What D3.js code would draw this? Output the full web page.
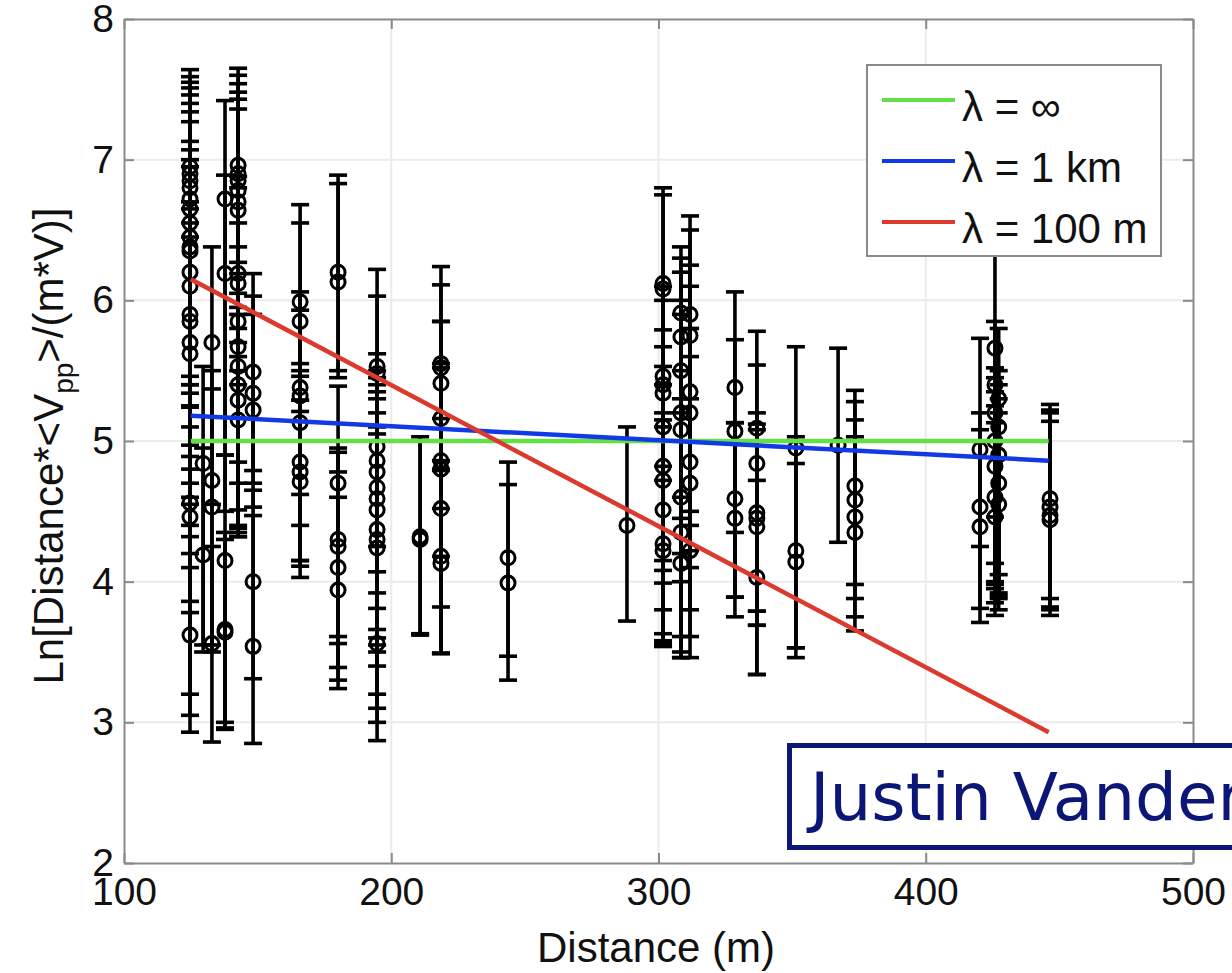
<!DOCTYPE html>
<html>
<head>
<meta charset="utf-8">
<script src="https://cdnjs.cloudflare.com/ajax/libs/d3/7.8.5/d3.min.js"></script>
<style>
  body { margin: 0; background: #fff; }
  text { font-family: "Liberation Sans", Arial, sans-serif; }
</style>
</head>
<body>
<div id="chart"></div>
<script>
// axis ticks
const xTicks = [100, 200, 300, 400, 500];
const yTicks = [2, 3, 4, 5, 6, 7, 8];

// measurements per distance: [value, lower end, upper end]
const at125 = [[6.95,5.46,7.64],[6.90,5.40,7.59],[6.85,5.34,7.55],[6.80,5.24,7.51],[6.72,5.10,7.46],[6.65,4.97,7.40],
  [6.55,4.89,7.34],[6.45,4.80,7.27],[6.38,4.70,7.13],[6.35,4.60,7.07],[6.20,4.55,7.00],[6.10,4.32,6.95],[5.90,4.20,6.70],
  [5.85,4.10,6.65],[5.70,3.86,6.55],[5.62,3.78,6.45],[4.56,3.20,5.40],[4.46,3.05,5.25],[3.62,2.93,4.40]];
const at130 = [[4.84,3.50,5.53],[4.19,3.55,4.95]];
const at133 = [[5.70,4.55,6.38],[4.72,3.50,5.50],[4.53,3.55,5.37],[3.56,2.86,4.25]];
const at138 = [[6.72,4.90,7.42],[6.19,4.50,6.89],[4.15,2.95,4.90],[3.66,3.00,4.35],[3.64,2.96,4.30]];
const at143 = [[6.96,5.90,7.65],[6.90,5.80,7.60],[6.85,5.70,7.54],[6.78,5.60,7.48],[6.70,5.50,7.43],[6.64,5.40,7.36],
  [6.19,4.85,6.88],[6.12,4.70,6.80],[5.85,4.51,6.55],[5.67,4.40,6.38],[5.53,4.32,6.27],[5.40,4.35,6.19],[5.29,4.38,6.05],[5.15,4.32,5.95]];
const at148 = [[5.49,4.79,6.19],[5.34,4.70,6.03],[5.22,4.53,5.90],[4.00,3.31,4.65],[3.54,2.85,4.47]];
const at166 = [[5.99,5.21,6.68],[5.85,5.29,6.55],[5.38,4.62,6.06],[5.32,4.40,5.93],[5.13,4.15,5.55],[4.85,4.11,5.46],[4.78,4.03,5.50],[4.71,4.15,5.29]];
const at180 = [[6.20,5.50,6.89],[6.13,5.45,6.83],[4.70,3.61,5.39],[4.30,3.56,4.95],[4.25,3.39,4.92],[4.10,3.24,4.78],[3.94,3.30,4.60]];
const at195 = [[5.53,4.07,6.22],[5.48,3.92,6.03],[4.96,3.81,5.62],[4.86,3.66,5.50],[4.78,3.60,5.45],[4.67,3.55,5.40],
  [4.59,3.50,5.35],[4.51,3.40,5.30],[4.37,3.20,5.20],[4.30,3.10,5.10],[4.24,3.00,5.05],[3.56,2.87,4.25]];
const at211 = [[4.32,3.63,5.03],[4.30,3.62,5.00]];
const at219 = [[5.55,4.86,6.24],[5.52,4.79,6.11],[5.41,4.52,5.85],[5.16,4.18,5.85],[4.86,3.82,5.55],[4.80,3.49,5.52],[4.52,3.49,5.16],[4.18,3.49,4.86],[4.13,3.49,4.80]];
const at244 = [[4.17,3.47,4.85],[3.99,3.30,4.69]];
const at288 = [[4.40,3.72,5.10]];
const at302 = [[6.12,4.82,6.80],[6.08,4.72,6.75],[5.46,4.15,6.10],[5.40,4.08,6.00],[5.34,3.99,5.79],[5.10,3.80,5.67],
  [4.82,3.63,5.53],[4.72,3.54,5.40],[4.51,3.58,5.20],[4.27,3.56,5.15],[4.22,3.54,5.10]];
const at308 = [[5.91,4.60,6.38],[5.74,4.45,6.30],[5.50,4.20,6.20],[5.20,4.00,6.00],[5.08,3.61,5.90],[4.60,3.46,5.50],[4.35,3.50,5.30],[4.13,3.46,5.20]];
const at312 = [[5.90,4.50,6.60],[5.75,4.40,6.50],[5.35,4.22,6.25],[5.20,4.10,6.10],[4.85,3.80,5.80],[4.70,3.61,5.60],[4.22,3.46,5.30]];
const at329 = [[5.38,4.35,6.06],[5.07,3.89,5.72],[4.59,3.75,5.13],[4.45,3.89,5.13]];
const at337 = [[5.09,3.79,5.78],[4.84,3.69,5.54],[4.49,3.79,5.20],[4.45,3.69,5.12],[4.39,3.34,5.08],[4.03,3.34,4.72]];
const at351 = [[4.95,3.53,5.67],[4.22,3.46,4.84],[4.14,3.53,5.03]];
const at367 = [[4.97,4.28,5.66]];
const at373 = [[4.68,3.98,5.36],[4.58,3.88,5.28],[4.46,3.75,5.15],[4.35,3.65,5.03]];
const at420 = [[4.94,4.25,5.73],[4.53,3.81,5.20],[4.39,3.71,5.08]];
const at426 = [[5.66,4.46,6.50],[5.40,4.13,5.85],[5.20,3.98,5.52],[5.00,3.85,5.45],[4.82,3.76,5.35],[4.60,3.95,5.25],[4.46,4.00,5.13]];
const at427 = [[5.30,4.05,5.80],[5.10,3.92,5.50],[4.90,3.80,5.40],[4.70,3.90,5.30],[4.55,3.88,5.20]];
const at446 = [[4.59,3.88,5.26],[4.53,3.82,5.20],[4.47,3.76,5.14],[4.44,3.80,5.22]];

const distanceGroups = [
  [124.7, at125], [129.6, at130], [132.9, at133], [137.8, at138], [142.7, at143], [148.3, at148],
  [165.9, at166], [180.1, at180], [194.7, at195], [210.8, at211], [218.6, at219], [243.7, at244],
  [288.2, at288], [301.7, at302], [308.4, at308], [311.8, at312], [328.6, at329], [336.8, at337],
  [351.4, at351], [367.2, at367], [373.5, at373], [420.3, at420], [425.9, at426], [427.3, at427], [446.5, at446]
];

// model fits: value at first and last distance
const fitDistance = [125, 446];
const fitInf = [5.0, 5.0];
const fit1km = [5.18, 4.86];
const fit100m = [6.15, 2.93];
const legendLabels = ["λ = ∞", "λ = 1 km", "λ = 100 m"];
const fitColors = ["#63e046", "#1239e6", "#db3a2e"];

const margin = { top: 19, left: 124 };
const width = 1069;
const height = 844;

const svg = d3.select("#chart").append("svg")
  .attr("width", 1232)
  .attr("height", 973);

const g = svg.append("g")
  .attr("transform", `translate(${margin.left},${margin.top})`);

const x = d3.scaleLinear().domain([100, 500]).range([0, width]);
const y = d3.scaleLinear().domain([2, 8]).range([height, 0]);

// grid
const grid = g.append("g").attr("class", "grid");
grid.selectAll("line.gx")
  .data(xTicks.slice(1, -1))
  .enter().append("line")
  .attr("x1", d => x(d)).attr("x2", d => x(d))
  .attr("y1", 0).attr("y2", height)
  .attr("stroke", "#ebebeb").attr("stroke-width", 2);
grid.selectAll("line.gy")
  .data(yTicks.slice(1, -1))
  .enter().append("line")
  .attr("x1", 0).attr("x2", width)
  .attr("y1", d => y(d)).attr("y2", d => y(d))
  .attr("stroke", "#ebebeb").attr("stroke-width", 2);

// axes, ticks pointing inward on all four sides
const styleAxis = sel => {
  sel.selectAll("path, line").attr("stroke", "#8a8a8a").attr("stroke-width", 2);
  sel.selectAll("text").attr("fill", "#111").style("font-size", "39px")
    .style("font-family", "'Liberation Sans', Arial, sans-serif");
};

g.append("g")
  .attr("transform", `translate(0,${height})`)
  .call(d3.axisBottom(x).tickValues(xTicks).tickFormat(d3.format("d"))
    .tickSizeInner(-10).tickSizeOuter(0).tickPadding(14))
  .call(styleAxis);
g.append("g")
  .call(d3.axisLeft(y).tickValues(yTicks).tickFormat(d3.format("d"))
    .tickSizeInner(-10).tickSizeOuter(0).tickPadding(10))
  .call(styleAxis);
g.append("g")
  .call(d3.axisTop(x).tickValues(xTicks).tickSizeInner(-10).tickSizeOuter(0).tickFormat(""))
  .call(styleAxis);
g.append("g")
  .attr("transform", `translate(${width},0)`)
  .call(d3.axisRight(y).tickValues(yTicks).tickSizeInner(-10).tickSizeOuter(0).tickFormat(""))
  .call(styleAxis);

// axis titles
svg.append("text")
  .attr("x", 656)
  .attr("y", 962)
  .attr("text-anchor", "middle")
  .style("font-size", "42px")
  .attr("fill", "#111")
  .text("Distance (m)");

const yTitle = svg.append("text")
  .attr("transform", "translate(63,446) rotate(-90)")
  .attr("text-anchor", "middle")
  .style("font-size", "42px")
  .attr("fill", "#111");
yTitle.append("tspan").text("Ln[Distance*<V");
yTitle.append("tspan").attr("dy", 10).style("font-size", "28px").text("pp");
yTitle.append("tspan").attr("dy", -10).text(">/(m*V)]");

// error bars and markers
const points = distanceGroups.flatMap(([d, rows]) => rows.map(r => ({ d, v: r[0], lo: r[1], hi: r[2] })));
const capHalf = 9;
const bars = g.append("g").attr("class", "errorbars");

bars.selectAll("line.stem")
  .data(points).enter().append("line")
  .attr("x1", p => x(p.d)).attr("x2", p => x(p.d))
  .attr("y1", p => y(p.lo)).attr("y2", p => y(p.hi))
  .attr("stroke", "#000").attr("stroke-width", 3.6);

bars.selectAll("line.capHi")
  .data(points).enter().append("line")
  .attr("x1", p => x(p.d) - capHalf).attr("x2", p => x(p.d) + capHalf)
  .attr("y1", p => y(p.hi)).attr("y2", p => y(p.hi))
  .attr("stroke", "#000").attr("stroke-width", 3.6);

bars.selectAll("line.capLo")
  .data(points).enter().append("line")
  .attr("x1", p => x(p.d) - capHalf).attr("x2", p => x(p.d) + capHalf)
  .attr("y1", p => y(p.lo)).attr("y2", p => y(p.lo))
  .attr("stroke", "#000").attr("stroke-width", 3.6);

bars.selectAll("circle")
  .data(points).enter().append("circle")
  .attr("cx", p => x(p.d)).attr("cy", p => y(p.v))
  .attr("r", 7)
  .attr("fill", "none").attr("stroke", "#000").attr("stroke-width", 3);

// fitted lines
const fits = [fitInf, fit1km, fit100m];
const line = d3.line().x(d => x(d[0])).y(d => y(d[1]));
g.selectAll("path.fit")
  .data(fits).enter().append("path")
  .attr("class", "fit")
  .attr("d", f => line(fitDistance.map((d, i) => [d, f[i]])))
  .attr("fill", "none")
  .attr("stroke", (f, i) => fitColors[i])
  .attr("stroke-width", 4.5);

// legend
const legend = svg.append("g").attr("transform", "translate(867,65)");
legend.append("rect")
  .attr("width", 294).attr("height", 191)
  .attr("fill", "#fff").attr("stroke", "#8a8a8a").attr("stroke-width", 2);
legendLabels.forEach((label, i) => {
  const ly = 35 + i * 61;
  legend.append("line")
    .attr("x1", 15).attr("x2", 88).attr("y1", ly).attr("y2", ly)
    .attr("stroke", fitColors[i]).attr("stroke-width", 4);
  legend.append("text")
    .attr("x", 95).attr("y", ly + 21)
    .style("font-size", "42px").attr("fill", "#111")
    .text(label);
});

// name box overlay
svg.append("rect")
  .attr("x", 789.5).attr("y", 745.5)
  .attr("width", 600).attr("height", 102)
  .attr("fill", "#fff").attr("stroke", "#0b1677").attr("stroke-width", 5);
svg.append("text")
  .attr("x", 810).attr("y", 820)
  .style("font-family", "'DejaVu Sans', Verdana, sans-serif")
  .style("font-size", "66px")
  .attr("fill", "#0b1677")
  .text("Justin Vander");
</script>
</body>
</html>
